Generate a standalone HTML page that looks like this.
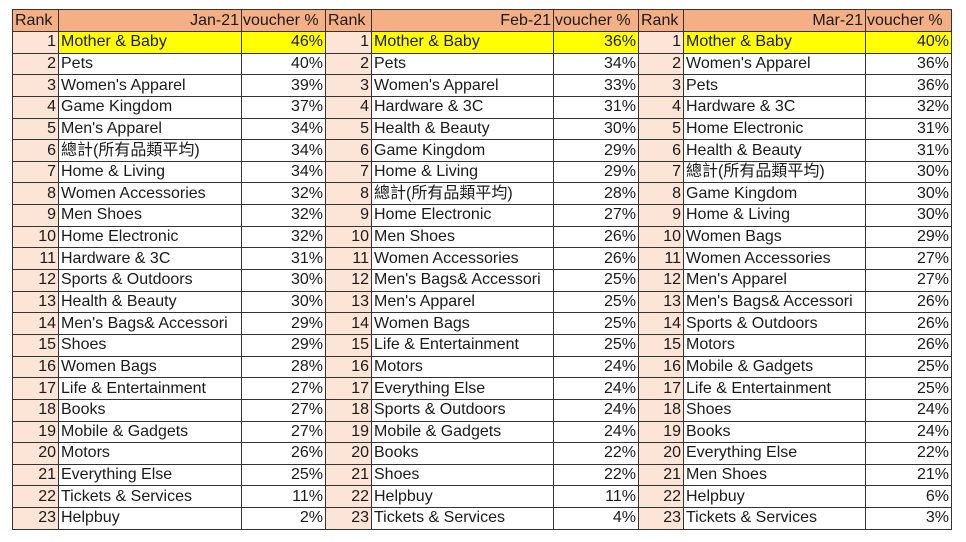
<!DOCTYPE html>
<html><head><meta charset="utf-8"><style>
html,body{margin:0;padding:0;background:#fff;width:966px;height:542px;overflow:hidden}
table{position:absolute;left:12px;top:9px;border-collapse:collapse;table-layout:fixed;font-family:"Liberation Sans","Noto Sans CJK TC",sans-serif;font-size:16px;color:#1a1a1a}
td{border:1px solid #333;padding:0 2px;height:20.65px;line-height:20px;white-space:nowrap;overflow:hidden}
tr.h td{background:#f4b084;height:21px}
td.r{background:#fce4d6;text-align:right}
td.n{text-align:left}
td.v{text-align:right}
tr.h td.r{background:#f4b084;text-align:left}
tr.h td.n{text-align:right}
tr.h td.v{text-align:left;padding:0 1px}
tr.y td.n,tr.y td.v{background:#ffff00}
</style></head><body>
<table>
<colgroup><col style="width:46px"><col style="width:183px"><col style="width:84px"><col style="width:46px"><col style="width:182px"><col style="width:85px"><col style="width:45px"><col style="width:182px"><col style="width:86px"></colgroup>
<tr class="h"><td class="r">Rank</td><td class="n">Jan-21</td><td class="v">voucher %</td><td class="r">Rank</td><td class="n">Feb-21</td><td class="v">voucher %</td><td class="r">Rank</td><td class="n">Mar-21</td><td class="v">voucher %</td></tr>
<tr class="y"><td class="r">1</td><td class="n">Mother &amp; Baby</td><td class="v">46%</td><td class="r">1</td><td class="n">Mother &amp; Baby</td><td class="v">36%</td><td class="r">1</td><td class="n">Mother &amp; Baby</td><td class="v">40%</td></tr>
<tr><td class="r">2</td><td class="n">Pets</td><td class="v">40%</td><td class="r">2</td><td class="n">Pets</td><td class="v">34%</td><td class="r">2</td><td class="n">Women's Apparel</td><td class="v">36%</td></tr>
<tr><td class="r">3</td><td class="n">Women's Apparel</td><td class="v">39%</td><td class="r">3</td><td class="n">Women's Apparel</td><td class="v">33%</td><td class="r">3</td><td class="n">Pets</td><td class="v">36%</td></tr>
<tr><td class="r">4</td><td class="n">Game Kingdom</td><td class="v">37%</td><td class="r">4</td><td class="n">Hardware &amp; 3C</td><td class="v">31%</td><td class="r">4</td><td class="n">Hardware &amp; 3C</td><td class="v">32%</td></tr>
<tr><td class="r">5</td><td class="n">Men's Apparel</td><td class="v">34%</td><td class="r">5</td><td class="n">Health &amp; Beauty</td><td class="v">30%</td><td class="r">5</td><td class="n">Home Electronic</td><td class="v">31%</td></tr>
<tr><td class="r">6</td><td class="n">總計(所有品類平均)</td><td class="v">34%</td><td class="r">6</td><td class="n">Game Kingdom</td><td class="v">29%</td><td class="r">6</td><td class="n">Health &amp; Beauty</td><td class="v">31%</td></tr>
<tr><td class="r">7</td><td class="n">Home &amp; Living</td><td class="v">34%</td><td class="r">7</td><td class="n">Home &amp; Living</td><td class="v">29%</td><td class="r">7</td><td class="n">總計(所有品類平均)</td><td class="v">30%</td></tr>
<tr><td class="r">8</td><td class="n">Women Accessories</td><td class="v">32%</td><td class="r">8</td><td class="n">總計(所有品類平均)</td><td class="v">28%</td><td class="r">8</td><td class="n">Game Kingdom</td><td class="v">30%</td></tr>
<tr><td class="r">9</td><td class="n">Men Shoes</td><td class="v">32%</td><td class="r">9</td><td class="n">Home Electronic</td><td class="v">27%</td><td class="r">9</td><td class="n">Home &amp; Living</td><td class="v">30%</td></tr>
<tr><td class="r">10</td><td class="n">Home Electronic</td><td class="v">32%</td><td class="r">10</td><td class="n">Men Shoes</td><td class="v">26%</td><td class="r">10</td><td class="n">Women Bags</td><td class="v">29%</td></tr>
<tr><td class="r">11</td><td class="n">Hardware &amp; 3C</td><td class="v">31%</td><td class="r">11</td><td class="n">Women Accessories</td><td class="v">26%</td><td class="r">11</td><td class="n">Women Accessories</td><td class="v">27%</td></tr>
<tr><td class="r">12</td><td class="n">Sports &amp; Outdoors</td><td class="v">30%</td><td class="r">12</td><td class="n">Men's Bags&amp; Accessori</td><td class="v">25%</td><td class="r">12</td><td class="n">Men's Apparel</td><td class="v">27%</td></tr>
<tr><td class="r">13</td><td class="n">Health &amp; Beauty</td><td class="v">30%</td><td class="r">13</td><td class="n">Men's Apparel</td><td class="v">25%</td><td class="r">13</td><td class="n">Men's Bags&amp; Accessori</td><td class="v">26%</td></tr>
<tr><td class="r">14</td><td class="n">Men's Bags&amp; Accessori</td><td class="v">29%</td><td class="r">14</td><td class="n">Women Bags</td><td class="v">25%</td><td class="r">14</td><td class="n">Sports &amp; Outdoors</td><td class="v">26%</td></tr>
<tr><td class="r">15</td><td class="n">Shoes</td><td class="v">29%</td><td class="r">15</td><td class="n">Life &amp; Entertainment</td><td class="v">25%</td><td class="r">15</td><td class="n">Motors</td><td class="v">26%</td></tr>
<tr><td class="r">16</td><td class="n">Women Bags</td><td class="v">28%</td><td class="r">16</td><td class="n">Motors</td><td class="v">24%</td><td class="r">16</td><td class="n">Mobile &amp; Gadgets</td><td class="v">25%</td></tr>
<tr><td class="r">17</td><td class="n">Life &amp; Entertainment</td><td class="v">27%</td><td class="r">17</td><td class="n">Everything Else</td><td class="v">24%</td><td class="r">17</td><td class="n">Life &amp; Entertainment</td><td class="v">25%</td></tr>
<tr><td class="r">18</td><td class="n">Books</td><td class="v">27%</td><td class="r">18</td><td class="n">Sports &amp; Outdoors</td><td class="v">24%</td><td class="r">18</td><td class="n">Shoes</td><td class="v">24%</td></tr>
<tr><td class="r">19</td><td class="n">Mobile &amp; Gadgets</td><td class="v">27%</td><td class="r">19</td><td class="n">Mobile &amp; Gadgets</td><td class="v">24%</td><td class="r">19</td><td class="n">Books</td><td class="v">24%</td></tr>
<tr><td class="r">20</td><td class="n">Motors</td><td class="v">26%</td><td class="r">20</td><td class="n">Books</td><td class="v">22%</td><td class="r">20</td><td class="n">Everything Else</td><td class="v">22%</td></tr>
<tr><td class="r">21</td><td class="n">Everything Else</td><td class="v">25%</td><td class="r">21</td><td class="n">Shoes</td><td class="v">22%</td><td class="r">21</td><td class="n">Men Shoes</td><td class="v">21%</td></tr>
<tr><td class="r">22</td><td class="n">Tickets &amp; Services</td><td class="v">11%</td><td class="r">22</td><td class="n">Helpbuy</td><td class="v">11%</td><td class="r">22</td><td class="n">Helpbuy</td><td class="v">6%</td></tr>
<tr><td class="r">23</td><td class="n">Helpbuy</td><td class="v">2%</td><td class="r">23</td><td class="n">Tickets &amp; Services</td><td class="v">4%</td><td class="r">23</td><td class="n">Tickets &amp; Services</td><td class="v">3%</td></tr>
</table>
</body></html>
